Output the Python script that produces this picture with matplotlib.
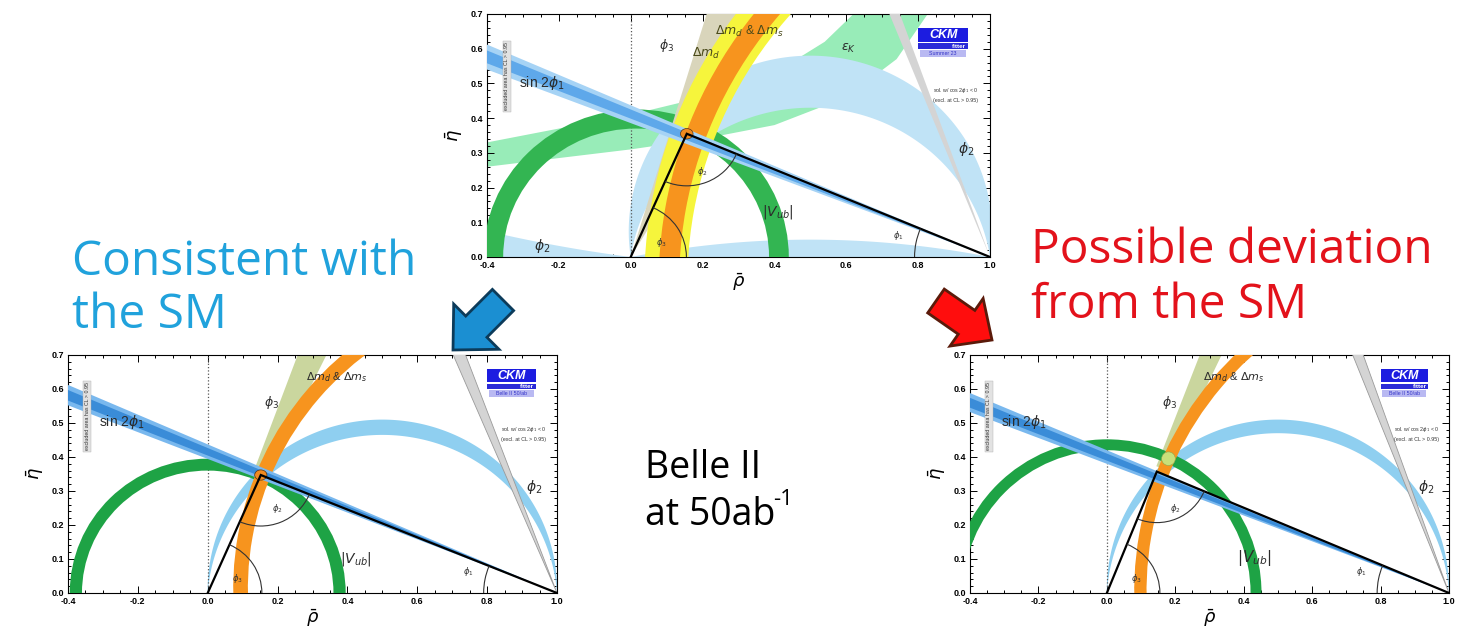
import numpy as np
import matplotlib.pyplot as plt
from matplotlib.patches import Wedge, Polygon, Rectangle, Arc, Ellipse, FancyArrow
from matplotlib.ticker import MultipleLocator

plt.rc('font', family='Liberation Sans')
plt.rc('mathtext', fontset='dejavusans')
plt.rc('axes', unicode_minus=False)

W, H = 1468, 634

# three unitarity-triangle fits: current world average, SM-like and NP-like Belle II projections
panel_names = ["now", "sm", "np"]
axes_px = [(487, 14, 990, 257), (68, 355, 557, 593), (970, 355, 1449, 593)]  # left, top, right, bottom

apex_rho = [0.156, 0.152, 0.146]
apex_eta = [0.355, 0.347, 0.357]

# |Vub| ring
vub_center = [0.015, 0.0, 0.0]
vub_r_in = [0.37, 0.36, 0.42]
vub_r_out = [0.425, 0.395, 0.452]

# phi2 band between two circles through (0,0) and (1,0), given by the eta of their tops
phi2_top_in = [0.43, 0.465, 0.47]
phi2_top_out = [0.58, 0.51, 0.51]

# sin 2phi1 band from (1,0): eta of the edges at rho = -0.4
s2b_lo = [0.54, 0.552, 0.532]
s2b_hi = [0.612, 0.612, 0.588]
s2b_core_lo = [0.558, 0.566, 0.545]
s2b_core_hi = [0.595, 0.597, 0.574]

# dm_d & dm_s ring
dm_center = [(1.337, -0.072), (0.986, 0.013), (1.046, 0.006)]
dm_r_in = [1.202, 0.871, 0.930]
dm_r_out = [1.259, 0.913, 0.966]
dmd_r = (1.179, 1.299)   # dm_d alone, current fit only

# phi3 wedge from the origin (drawn from r_min outwards) and grey wedge from (1,0), degrees
phi3_deg = [(59.0, 73.2), (64.1, 69.8), (64.4, 68.8)]
phi3_r_min = [0.0, 0.37, 0.40]
grey_deg = [(68.2, 70.3), (67.0, 69.5), (68.1, 70.3)]

# eps_K band edges (current fit only)
epsk_upper = [(-0.45, 0.32), (-0.4, 0.33), (-0.2, 0.37), (0.0, 0.41), (0.2, 0.46),
              (0.4, 0.53), (0.54, 0.62), (0.64, 0.72)]
epsk_lower = [(-0.45, 0.255), (-0.4, 0.26), (-0.2, 0.285), (0.0, 0.31), (0.2, 0.34),
              (0.4, 0.38), (0.6, 0.46), (0.74, 0.57), (0.84, 0.72)]
# second (flat) phi2 solution: eta at rho=-0.4 and bump height between 0 and 1
phi2_flat = (0.075, 0.05)

col_phi2 = ['#c0e3f6', '#8fcff0', '#8fcff0']
col_vub = ['#33b552', '#1ea345', '#1ea345']
col_phi3 = ['#d9d5bb', '#cad69e', '#cad69e']
col_s2b = ['#a6d3f5', '#79b8ee', '#79b8ee']
col_s2b_core = ['#5ea8ea', '#3a8cd8', '#3a8cd8']

fig = plt.figure(figsize=(W / 100, H / 100), dpi=100)


def circle_through_ends(h):
    c = (h * h - 0.25) / (2 * h)
    return c, h - c


def phi2_band(ax, h_in, h_out, color, z):
    pts = []
    for h, rev in ((h_out, False), (h_in, True)):
        c, r = circle_through_ends(h)
        a0 = np.arctan2(-c, 0.5)
        t = np.linspace(a0, np.pi - a0, 200)
        arc = np.column_stack([0.5 + r * np.cos(t), c + r * np.sin(t)])
        pts.append(arc[::-1] if rev else arc)
    ax.add_patch(Polygon(np.vstack(pts), closed=True, fc=color, ec='none', zorder=z))


def flat_phi2(ax, color, z):
    hl, s = phi2_flat
    k = (0.25 - s * s) / (2 * s)
    a0 = np.arctan2(k, 0.5)
    t = np.linspace(a0, np.pi - a0, 200)
    right = np.column_stack([0.5 + (k + s) * np.cos(t), -k + (k + s) * np.sin(t)])
    ax.add_patch(Polygon(right, closed=True, fc=color, ec='none', zorder=z))
    k2 = (0.56 + hl * hl) / (2 * hl)
    r2 = np.hypot(0.5, k2)
    t = np.linspace(np.arctan2(-k2, -0.5), np.arctan2(hl - k2, -0.9), 100)
    left = np.column_stack([0.5 + r2 * np.cos(t), k2 + r2 * np.sin(t)])
    left = np.vstack([left, [(-0.4, 0.0)]])
    ax.add_patch(Polygon(left, closed=True, fc=color, ec='none', zorder=z))


def from_b(lo, hi):
    # wedge angles seen from (1,0) for a band hitting rho=-0.4 between eta lo and hi
    return 180 - np.degrees(np.arctan(hi / 1.4)), 180 - np.degrees(np.arctan(lo / 1.4))


def logo(ax, sub):
    x0, x1 = 0.857, 0.957
    ax.add_patch(Rectangle((x0, 0.885), x1 - x0, 0.058, transform=ax.transAxes,
                           fc='#1c1ce0', ec='none', zorder=9))
    ax.text((x0 + x1) / 2, 0.913, 'CKM', transform=ax.transAxes, color='white',
            fontsize=9, style='italic', fontweight='bold', ha='center', va='center', zorder=10)
    ax.add_patch(Rectangle((x0, 0.857), x1 - x0, 0.022, transform=ax.transAxes,
                           fc='#2a2ad8', ec='none', zorder=9))
    ax.text(x1 - 0.004, 0.868, 'fitter', transform=ax.transAxes, color='white',
            fontsize=4.5, fontweight='bold', ha='right', va='center', zorder=10)
    ax.add_patch(Rectangle((x0 + 0.004, 0.822), x1 - x0 - 0.008, 0.03, transform=ax.transAxes,
                           fc='#b9b9f2', ec='none', zorder=9))
    ax.text((x0 + x1) / 2, 0.837, sub, transform=ax.transAxes, color='#3434c8',
            fontsize=3.8, ha='center', va='center', zorder=10)


for i, name in enumerate(panel_names):
    l, t, r, b = axes_px[i]
    ax = fig.add_axes([l / W, 1 - b / H, (r - l) / W, (b - t) / H])
    ax.set_xlim(-0.4, 1.0)
    ax.set_ylim(0.0, 0.7)

    if name == "now":
        ax.add_patch(Polygon(epsk_upper + epsk_lower[::-1], closed=True,
                             fc='#98ecb8', ec='none', zorder=1))
        flat_phi2(ax, col_phi2[i], 2)
    # phi3 wedge sits under the phi2 band in the projections
    ax.add_patch(Wedge((0, 0), 2.0, phi3_deg[i][0], phi3_deg[i][1], width=2.0 - phi3_r_min[i],
                       fc=col_phi3[i], ec='none', zorder=3.5 if name == "now" else 1.5))
    phi2_band(ax, phi2_top_in[i], phi2_top_out[i], col_phi2[i], 2)

    ax.add_patch(Wedge((vub_center[i], 0), vub_r_out[i], 0, 180, width=vub_r_out[i] - vub_r_in[i],
                       fc=col_vub[i], ec='none', zorder=3))
    cx, cy = dm_center[i]
    if name == "now":
        ax.add_patch(Wedge((cx, cy), dmd_r[1], 80, 200, width=dmd_r[1] - dmd_r[0],
                           fc='#f6f53c', ec='none', zorder=4))
    ax.add_patch(Wedge((cx, cy), dm_r_out[i], 80, 200, width=dm_r_out[i] - dm_r_in[i],
                       fc='#f7941e', ec='none', zorder=4.5))
    g1, g2 = grey_deg[i]
    ax.add_patch(Wedge((1, 0), 2.0, 180 - g2, 180 - g1, fc='#d4d4d4',
                       ec='#9a9a9a' if name != "now" else 'none', lw=0.6, zorder=5))
    ax.add_patch(Wedge((1, 0), 2.0, *from_b(s2b_lo[i], s2b_hi[i]),
                       fc=col_s2b[i], ec='none', zorder=6))
    ax.add_patch(Wedge((1, 0), 2.0, *from_b(s2b_core_lo[i], s2b_core_hi[i]),
                       fc=col_s2b_core[i], ec='none', zorder=6.5))

    ar, ae = apex_rho[i], apex_eta[i]
    if name == "np":
        ax.add_patch(Ellipse((0.18, 0.395), 0.04, 0.04, fc='#c8e07a', ec='#8aa850',
                             lw=0.4, zorder=7))
    else:
        ax.add_patch(Ellipse((ar, ae), 0.035, 0.03, fc='#f08a20', ec='#553311',
                             lw=0.5, zorder=7))
    ax.plot([0, ar, 1], [0, ae, 0], color='black', lw=1.6, zorder=8, solid_joinstyle='miter')

    gam = np.degrees(np.arctan2(ae, ar))
    bet = np.degrees(np.arctan2(ae, 1 - ar))
    ax.add_patch(Arc((0, 0), 0.31, 0.31, theta1=0, theta2=gam, color='#333', lw=0.8, zorder=8))
    ax.add_patch(Arc((ar, ae), 0.30, 0.30, theta1=180 + gam, theta2=360 - bet,
                     color='#333', lw=0.8, zorder=8))
    ax.add_patch(Arc((1, 0), 0.42, 0.42, theta1=180 - bet, theta2=180,
                     color='#333', lw=0.8, zorder=8))
    ax.text(0.085, 0.035, r'$\phi_3$', fontsize=6, color='#333', ha='center', zorder=9)
    ax.text(0.2, 0.24, r'$\phi_2$', fontsize=6, color='#333', ha='center', zorder=9)
    ax.text(0.745, 0.055, r'$\phi_1$', fontsize=6, color='#333', ha='center', zorder=9)

    ax.axvline(0, color='#555', ls=':', lw=0.9, zorder=2.5)

    ax.text(-0.31, 0.49, r'sin 2$\phi_1$', fontsize=10, color='#2b2b2b', zorder=9)
    ax.text(0.91, 0.30, r'$\phi_2$', fontsize=10, color='#2b2b2b', zorder=9)
    big_vub = 11 if name == "np" else 10
    ax.text(0.365 if name == "now" else 0.38, 0.12 if name == "now" else 0.09,
            r'$|V_{ub}|$', fontsize=big_vub, color='#2b2b2b', zorder=9)
    if name == "now":
        ax.text(0.08, 0.6, r'$\phi_3$', fontsize=9, color='#2b2b2b', zorder=9)
        ax.text(0.17, 0.575, r'$\Delta m_d$', fontsize=9, color='#4a4a1a', zorder=9)
        ax.text(0.235, 0.64, r'$\Delta m_d$ & $\Delta m_s$', fontsize=9, color='#4a4a1a', zorder=9)
        ax.text(0.585, 0.595, r'$\varepsilon_K$', fontsize=9, color='#2b2b2b', zorder=9)
        ax.text(-0.27, 0.02, r'$\phi_2$', fontsize=10, color='#2b2b2b', zorder=9)
        logo(ax, 'Summer 23')
    else:
        ax.text(0.16, 0.55, r'$\phi_3$', fontsize=9, color='#2b2b2b', zorder=9)
        ax.text(0.28, 0.625, r'$\Delta m_d$ & $\Delta m_s$', fontsize=8, color='#2b2b2b', zorder=9)
        logo(ax, 'Belle II 50/ab')

    ax.text(-0.345, 0.52, 'excluded area has CL > 0.95', rotation=90, fontsize=3.8,
            ha='center', va='center', color='#333', zorder=9,
            bbox=dict(fc='#e2e2e2', ec='#b0b0b0', lw=0.3, pad=1.2))
    ax.text(0.905, 0.445, 'sol. w/ cos 2$\\phi_1$ < 0\n(excl. at CL > 0.95)', fontsize=3.8,
            ha='center', va='bottom', color='#333', zorder=9, linespacing=1.6)

    ax.xaxis.set_major_locator(MultipleLocator(0.2))
    ax.xaxis.set_minor_locator(MultipleLocator(0.05))
    ax.yaxis.set_major_locator(MultipleLocator(0.1))
    ax.yaxis.set_minor_locator(MultipleLocator(0.02))
    ax.xaxis.set_major_formatter('{x:.1f}')
    ax.yaxis.set_major_formatter('{x:.1f}')
    ax.tick_params(which='both', direction='in', top=True, right=True, width=0.7,
                   labelsize=6.5, pad=3)
    ax.tick_params(which='major', length=5)
    ax.tick_params(which='minor', length=2.5)
    for lab in ax.get_xticklabels() + ax.get_yticklabels():
        lab.set_fontweight('bold')
    for sp in ax.spines.values():
        sp.set_linewidth(0.8)
    ax.set_xlabel(r'$\bar{\rho}$', fontsize=13, labelpad=1)
    ax.set_ylabel(r'$\bar{\eta}$', fontsize=13, labelpad=4)

# overlay in pixel units for the slide text and the arrows
ov = fig.add_axes([0, 0, 1, 1], zorder=20)
ov.set_xlim(0, W)
ov.set_ylim(H, 0)
ov.axis('off')

ov.text(72, 275, 'Consistent with', fontsize=34.5, color='#20a2dc', family='Open Sans', va='baseline')
ov.text(72, 328, 'the SM', fontsize=34.5, color='#20a2dc', family='Open Sans', va='baseline')
ov.text(1031, 263, 'Possible deviation', fontsize=34.5, color='#e3121b', family='Open Sans',
        va='baseline')
ov.text(1031, 318, 'from the SM', fontsize=34.5, color='#e3121b', family='Open Sans', va='baseline')
ov.text(645, 478, 'Belle II', fontsize=27, color='black', family='Open Sans', va='baseline')
ov.text(645, 525, 'at 50ab', fontsize=27, color='black', family='Open Sans', va='baseline')
ov.text(773, 505, '-1', fontsize=16, color='black', family='Open Sans', va='baseline')

ov.add_patch(FancyArrow(503, 300, -50, 50, width=30, head_width=64, head_length=33,
                        length_includes_head=True, fc='#1b8fd2', ec='#0c3b5a', lw=2))
ov.add_patch(FancyArrow(936, 301, 56, 39, width=29, head_width=58, head_length=31,
                        length_includes_head=True, fc='#ff0d0d', ec='#5a1a0a', lw=2))

fig.savefig('out.png', dpi=100)
